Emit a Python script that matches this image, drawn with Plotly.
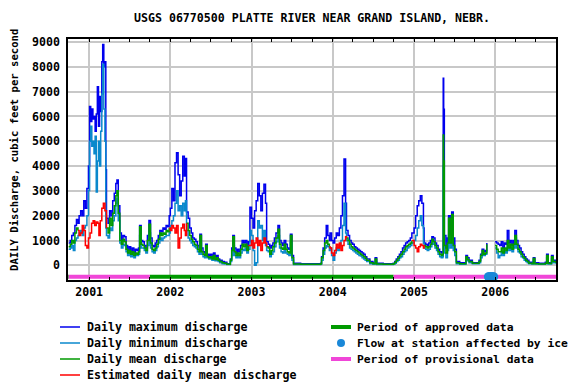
import plotly.graph_objects as go

# ---------------- data ----------------
dates = [
    # WY2001
    "2000-10-01","2000-10-08","2000-10-15","2000-10-22","2000-10-29","2000-11-05","2000-11-12",
    "2000-11-17","2000-11-24","2000-12-01","2000-12-08","2000-12-15","2000-12-22","2000-12-29",
    "2001-01-03","2001-01-08","2001-01-13","2001-01-18","2001-01-23","2001-01-28",
    "2001-02-02","2001-02-07","2001-02-12","2001-02-17","2001-02-22","2001-02-27",
    "2001-03-03","2001-03-08","2001-03-13","2001-03-17","2001-03-20","2001-03-27",
    "2001-04-03","2001-04-10","2001-04-17","2001-04-24",
    "2001-05-01","2001-05-06","2001-05-12","2001-05-19","2001-05-26",
    "2001-06-02","2001-06-09","2001-06-16","2001-06-23","2001-06-30",
    "2001-07-07","2001-07-14","2001-07-21","2001-07-28",
    "2001-08-04","2001-08-11","2001-08-16","2001-08-23","2001-08-30",
    "2001-09-06","2001-09-13","2001-09-20","2001-09-27",
    # WY2002
    "2001-10-04","2001-10-11","2001-10-18","2001-10-25",
    "2001-11-01","2001-11-08","2001-11-15","2001-11-22","2001-11-29",
    "2001-12-06","2001-12-13","2001-12-20","2001-12-27",
    "2002-01-01","2002-01-08","2002-01-15","2002-01-22","2002-01-29",
    "2002-02-05","2002-02-12","2002-02-19","2002-02-26",
    "2002-03-05","2002-03-10","2002-03-15","2002-03-22","2002-03-29",
    "2002-04-05","2002-04-12","2002-04-19","2002-04-26",
    "2002-05-03","2002-05-10","2002-05-14","2002-05-21","2002-05-28",
    "2002-06-04","2002-06-09","2002-06-16","2002-06-23","2002-06-30",
    "2002-07-07","2002-07-14","2002-07-21","2002-07-28",
    "2002-08-04","2002-08-11","2002-08-22",
    "2002-09-01","2002-09-12","2002-09-22","2002-09-28",
    # WY2003
    "2002-10-04","2002-10-09","2002-10-16","2002-10-23","2002-10-30",
    "2002-11-06","2002-11-13","2002-11-20","2002-11-27",
    "2002-12-04","2002-12-11","2002-12-18","2002-12-25",
    "2003-01-01","2003-01-08","2003-01-15","2003-01-22","2003-01-29",
    "2003-02-05","2003-02-12","2003-02-19","2003-02-26",
    "2003-03-05","2003-03-10","2003-03-17","2003-03-24","2003-03-31",
    "2003-04-07","2003-04-14","2003-04-21","2003-04-30",
    "2003-05-07","2003-05-14","2003-05-21","2003-05-28",
    "2003-06-04","2003-06-11","2003-06-18","2003-06-25",
    "2003-07-02","2003-07-09","2003-08-10","2003-09-10","2003-10-10","2003-11-08",
    # WY2004
    "2003-11-12","2003-11-19","2003-11-26",
    "2003-12-03","2003-12-10","2003-12-17","2003-12-20","2003-12-27",
    "2004-01-03","2004-01-10","2004-01-17","2004-01-24","2004-01-31",
    "2004-02-07","2004-02-14","2004-02-21","2004-02-28",
    "2004-03-03","2004-03-10","2004-03-17","2004-03-24","2004-03-31",
    "2004-04-07","2004-04-14","2004-04-21","2004-04-28",
    "2004-05-05","2004-05-12","2004-05-19","2004-05-26",
    "2004-06-02","2004-06-16","2004-06-30",
    "2004-07-10","2004-07-17","2004-08-15","2004-09-15","2004-09-29",
    # WY2005
    "2004-10-06","2004-10-13","2004-10-20","2004-10-27",
    "2004-11-03","2004-11-10","2004-11-17","2004-11-24",
    "2004-12-01","2004-12-08","2004-12-15","2004-12-22",
    "2005-01-01","2005-01-08","2005-01-15","2005-01-22","2005-01-29",
    "2005-02-05","2005-02-12","2005-02-15","2005-02-22",
    "2005-03-01","2005-03-08","2005-03-15","2005-03-22","2005-03-29",
    "2005-04-05","2005-04-12","2005-04-19","2005-04-26",
    "2005-05-03","2005-05-10","2005-05-12","2005-05-14","2005-05-17","2005-05-24","2005-05-31",
    "2005-06-05","2005-06-12","2005-06-19","2005-06-26",
    "2005-07-03","2005-07-10","2005-07-25",
    "2005-08-10","2005-08-22","2005-08-29",
    "2005-09-05","2005-09-20","2005-10-10",
    # WY2006
    "2005-10-20","2005-10-27",
    "2005-11-03","2005-11-10","2005-11-17","2005-11-24","2005-11-27",
    "2005-12-31",
    "2006-01-07","2006-01-14","2006-01-21","2006-01-28",
    "2006-02-04","2006-02-11","2006-02-18","2006-02-24",
    "2006-03-03","2006-03-10","2006-03-17","2006-03-24","2006-03-30",
    "2006-04-06","2006-04-13","2006-04-20","2006-04-27",
    "2006-05-04","2006-05-11","2006-05-18","2006-05-25",
    "2006-06-01","2006-06-15","2006-06-21","2006-06-28",
    "2006-07-15","2006-08-05","2006-08-14","2006-08-20","2006-08-27",
    "2006-09-05","2006-09-11","2006-09-18","2006-09-30",
]

q_max = [
    # WY2001
    900,1000,1200,1300,1600,1850,1700,
    2000,2200,2000,2600,2300,3100,4000,
    6400,5800,6300,5900,6000,5400,
    6100,7200,5600,6800,6200,8200,
    8900,8000,8200,3850,1900,1700,
    2200,2000,2600,2900,
    3300,3440,2400,1300,1000,
    1200,1150,800,600,750,
    550,700,500,650,
    600,700,1600,1000,950,
    800,700,1200,1810,
    # WY2002
    1100,800,750,900,
    1000,1200,1400,1350,1500,
    1450,1600,1550,2000,
    2300,3100,2600,4130,4540,
    3650,2800,3400,4400,
    3600,4300,2150,1900,1500,
    1300,1100,1050,950,
    800,700,1250,700,550,
    500,850,450,400,450,
    350,500,300,400,
    250,200,150,
    120,60,60,250,
    # WY2003
    700,1200,700,500,650,
    550,800,1000,900,
    1000,750,950,2340,
    1900,1500,2200,2600,3300,
    2800,2200,2900,3270,
    2500,950,850,700,800,
    900,1100,1300,1600,
    1000,900,800,1000,
    850,700,650,1250,
    400,80,60,60,60,80,
    # WY2004
    350,700,1100,
    1600,1200,1000,1300,1000,
    900,1100,1300,1200,1500,
    2000,2800,4280,2500,
    1400,1200,1000,900,850,
    750,700,650,600,
    550,500,450,350,
    250,150,100,
    300,80,60,60,80,
    # WY2005
    150,250,350,450,
    550,700,800,900,
    950,1000,1100,1300,
    1500,2000,2400,2600,2800,
    2500,1500,900,850,
    800,900,1000,1150,1100,
    900,800,650,550,
    500,550,7540,6290,1200,700,1100,
    2000,1200,2150,1100,
    650,150,100,
    100,400,300,
    200,100,100,
    # WY2006
    200,450,
    650,550,600,900,None,
    950,
    900,850,800,950,
    700,900,850,1400,
    900,1000,800,1000,1400,
    1000,800,700,550,
    450,350,250,200,
    120,100,300,100,
    80,80,120,450,100,
    100,400,200,120,
]

q_min = [
    # WY2001
    650,700,800,600,1000,1100,1200,
    1300,1400,1200,1500,1600,2000,3000,
    5000,5600,4800,5000,4500,5200,
    2950,4200,5000,4000,5400,6900,
    8100,6300,5000,1500,1200,1100,
    1500,1400,1800,2000,
    2500,2700,1800,900,700,
    850,800,550,400,500,
    350,450,300,400,
    400,450,1200,700,700,
    600,500,800,1300,
    # WY2002
    700,550,500,600,
    750,900,1100,1000,1100,
    1150,1200,1200,1300,
    1600,1800,2000,2500,3000,
    2200,2400,2000,2500,
    2200,2600,1400,1100,1000,
    900,800,750,700,
    550,450,900,450,350,
    300,550,300,250,300,
    200,300,180,250,
    150,100,60,
    50,30,30,150,
    # WY2003
    400,800,400,300,400,
    300,500,650,600,
    700,500,650,1400,
    1200,600,0,100,1800,
    1500,1600,1000,1400,
    800,600,550,350,450,
    550,750,950,1200,
    700,550,500,700,
    500,450,400,900,
    200,30,30,30,30,40,
    # WY2004
    200,450,700,
    800,750,600,700,400,
    200,500,700,600,800,
    1000,1600,2500,1300,
    1000,850,700,650,600,
    550,500,450,400,
    380,300,250,200,
    150,60,40,
    150,30,30,30,40,
    # WY2005
    80,150,200,300,
    350,450,550,600,
    700,750,800,900,
    1000,1200,1500,1800,2000,
    1600,900,700,650,
    600,650,750,900,850,
    700,600,450,350,
    300,350,4000,2000,500,300,600,
    1200,700,1100,600,
    400,60,40,
    40,250,180,
    100,60,60,
    # WY2006
    100,300,
    450,400,450,600,None,
    700,
    500,300,400,550,
    400,550,500,800,
    600,700,550,700,1100,
    700,550,500,350,
    300,200,150,100,
    60,50,200,50,
    40,40,60,300,50,
    50,250,100,60,
]

q_mean = [
    # WY2001
    750,850,1000,900,1300,1500,1400,
    None,None,None,None,None,None,None,
    None,None,None,None,None,None,
    None,None,None,None,None,None,
    None,None,None,None,1500,1300,
    1900,1600,2100,2400,
    2800,3000,2100,1000,850,
    1050,950,650,500,600,
    450,550,400,500,
    450,550,1550,850,800,
    700,600,1000,1650,
    # WY2002
    900,650,600,700,
    850,1050,1300,1200,1300,
    1250,1400,1350,1500,
    None,None,None,None,None,
    None,None,None,None,
    None,None,1700,1400,1200,
    1050,950,850,800,
    650,550,1200,550,450,
    400,800,350,300,350,
    250,400,230,300,
    200,150,100,
    80,40,40,200,
    # WY2003
    600,1150,550,400,500,
    400,650,850,750,
    850,600,800,None,
    None,None,None,None,None,
    None,None,None,None,
    None,750,700,450,600,
    750,900,1100,1450,
    850,700,650,850,
    650,550,500,1200,
    300,50,40,40,40,60,
    # WY2004
    300,600,900,
    1000,850,750,None,None,
    None,None,None,None,None,
    None,None,None,None,
    1100,1000,850,750,700,
    650,600,550,500,
    450,400,350,280,
    200,100,60,
    250,50,40,40,60,
    # WY2005
    120,200,280,380,
    450,550,650,750,
    800,850,900,1000,
    None,None,None,None,None,
    None,None,800,750,
    700,750,850,1050,950,
    800,700,550,450,
    400,450,5250,4200,800,500,900,
    1900,900,2050,800,
    550,100,60,
    60,350,230,
    150,80,80,
    # WY2006
    150,400,
    600,450,500,850,None,
    800,
    650,550,550,700,
    500,700,600,1000,
    700,850,650,850,1200,
    850,650,550,450,
    350,280,200,150,
    80,60,270,60,
    50,50,80,400,70,
    70,350,150,100,
]

est_dates = [
    "2000-11-12","2000-11-17","2000-11-24","2000-12-01","2000-12-08","2000-12-15","2000-12-22",
    "2000-12-29","2001-01-05","2001-01-12","2001-01-19","2001-01-26","2001-02-02","2001-02-09",
    "2001-02-14","2001-02-20","2001-02-27","2001-03-06","2001-03-13","2001-03-20","2001-03-21",
    "2001-12-27","2002-01-01","2002-01-08","2002-01-15","2002-01-22","2002-01-29","2002-02-05",
    "2002-02-12","2002-02-19","2002-02-26","2002-03-05","2002-03-10","2002-03-15","2002-03-16",
    "2002-12-18","2002-12-25","2003-01-01","2003-01-08","2003-01-15","2003-01-22","2003-01-29",
    "2003-02-05","2003-02-12","2003-02-19","2003-02-26","2003-03-05","2003-03-10","2003-03-11",
    "2003-12-17","2003-12-20","2003-12-27","2004-01-03","2004-01-10","2004-01-17","2004-01-24",
    "2004-01-31","2004-02-07","2004-02-14","2004-02-21","2004-02-28","2004-03-03","2004-03-04",
    "2004-12-22","2005-01-01","2005-01-08","2005-01-15","2005-01-22","2005-01-29","2005-02-05",
    "2005-02-12","2005-02-15",
]
q_est = [
    1400,1200,1300,1600,1400,800,700,
    1100,1300,1700,1800,1600,1750,1700,
    1200,1800,2300,2500,2200,1500,None,
    1500,1400,1600,1500,1300,1600,700,
    1100,1500,1650,1400,1200,1700,None,
    800,800,1000,700,900,1100,800,
    1000,600,900,1100,900,750,None,
    750,700,500,400,600,850,700,
    900,600,800,1000,1150,1100,None,
    1000,800,700,550,750,850,800,
    700,800,
]

ice_dates = ["2005-12-01","2005-12-05","2005-12-09","2005-12-13",
             "2005-12-17","2005-12-21","2005-12-25"]

approved_periods = [("2000-09-28", "2000-10-01"), ("2001-10-01", "2004-10-01")]
provisional_periods = [("2000-10-01", "2001-10-01"), ("2004-10-01", "2006-10-01")]

assert len(dates) == len(q_max) == len(q_min) == len(q_mean)
assert len(est_dates) == len(q_est)

# ---------------- style ----------------
FONT = "DejaVu Sans Mono"
C_MAX = "#0000ee"
C_MIN = "#0a88cc"
C_MEAN = "#009a00"
C_EST = "#ff0000"
C_PROV = "#f046d8"
C_ICE = "#1a88d8"
BAND_Y = -460

def period_xy(periods):
    xs, ys = [], []
    for a, b in periods:
        xs += [a, b, None]
        ys += [BAND_Y, BAND_Y, None]
    return xs, ys

fig = go.Figure()
fig.add_trace(go.Scatter(x=dates, y=q_max, mode="lines", line=dict(color=C_MAX, width=1.5, shape="hv"),
                         connectgaps=False, showlegend=False))
fig.add_trace(go.Scatter(x=dates, y=q_min, mode="lines", line=dict(color=C_MIN, width=1.5, shape="hv"),
                         connectgaps=False, showlegend=False))
fig.add_trace(go.Scatter(x=dates, y=q_mean, mode="lines", line=dict(color=C_MEAN, width=1.5, shape="hv"),
                         connectgaps=False, showlegend=False))
fig.add_trace(go.Scatter(x=est_dates, y=q_est, mode="lines", line=dict(color=C_EST, width=1.5, shape="hv"),
                         connectgaps=False, showlegend=False))
ax, ay = period_xy(approved_periods)
fig.add_trace(go.Scatter(x=ax, y=ay, mode="lines", line=dict(color=C_MEAN, width=4), showlegend=False))
px_, py_ = period_xy(provisional_periods)
fig.add_trace(go.Scatter(x=px_, y=py_, mode="lines", line=dict(color=C_PROV, width=4), showlegend=False))
fig.add_trace(go.Scatter(x=ice_dates, y=[BAND_Y] * len(ice_dates), mode="markers",
                         marker=dict(color=C_ICE, size=9), showlegend=False))

# The page body has an 8px margin, so the figure is drawn 8px smaller and
# all target positions below are given in page pixels.
OFF = 8
W, H = 576 - OFF, 384 - OFF
L, R, T, B = 68, 556, 39, 280          # plot area on the page
def fx(p):
    return (p - L) / (R - L)
def fy(p):
    return (B - p) / (B - T)

shapes = []
annots = []
bold = dict(family=FONT, size=11.6, color="black", weight="bold")
bold_r = dict(family=FONT, size=11.3, color="black", weight="bold")
left_items = [("Daily maximum discharge", C_MAX), ("Daily minimum discharge", C_MIN),
              ("Daily mean discharge", C_MEAN), ("Estimated daily mean discharge", C_EST)]
rows = [327, 343, 359, 375]
for (txt, col), ry in zip(left_items, rows):
    shapes.append(dict(type="line", xref="paper", yref="paper", x0=fx(60), x1=fx(80),
                       y0=fy(ry), y1=fy(ry), line=dict(color=col, width=1.5)))
    annots.append(dict(text=txt, xref="paper", yref="paper", x=fx(85), y=fy(ry),
                       xanchor="left", yanchor="middle", showarrow=False, font=bold))
right_items = [("Period of approved data", "band", C_MEAN),
               ("Flow at station affected by ice", "dot", C_ICE),
               ("Period of provisional data", "band", C_PROV)]
for (txt, kind, col), ry in zip(right_items, rows[:3]):
    if kind == "band":
        shapes.append(dict(type="line", xref="paper", yref="paper", x0=fx(331), x1=fx(351),
                           y0=fy(ry), y1=fy(ry), line=dict(color=col, width=4)))
    else:
        shapes.append(dict(type="circle", xref="paper", yref="paper", xsizemode="pixel",
                           ysizemode="pixel", xanchor=fx(341), yanchor=fy(ry),
                           x0=-4, x1=4, y0=-4, y1=4, fillcolor=col, line=dict(width=0)))
    annots.append(dict(text=txt, xref="paper", yref="paper", x=fx(355), y=fy(ry),
                       xanchor="left", yanchor="middle", showarrow=False, font=bold_r))

annots.append(dict(text="DAILY Discharge, cubic feet per second", xref="paper", yref="paper",
                   x=fx(14), y=fy(150), textangle=-90, xanchor="center", yanchor="middle",
                   showarrow=False, font=dict(family=FONT, size=10.6, color="black", weight="bold")))

fig.update_layout(
    width=W, height=H,
    margin=dict(l=L - OFF, r=W - (R - OFF), t=T - OFF, b=H - (B - OFF)),
    paper_bgcolor="white", plot_bgcolor="white",
    font=bold,
    title=dict(text="USGS 06770500 PLATTE RIVER NEAR GRAND ISLAND, NEBR.", x=0.5, xref="paper",
               xanchor="center", y=1 - (18 - OFF) / H, yref="container", yanchor="middle",
               font=bold),
    shapes=shapes, annotations=annots,
    xaxis=dict(type="date", range=["2000-09-28", "2006-10-01"], tick0="2001-01-01", dtick="M12",
               tickformat="%Y", showgrid=True, gridcolor="#c8c8c8", gridwidth=1.5,
               ticks="inside", ticklen=3, tickcolor="black",
               showline=True, linecolor="black", linewidth=1.5, mirror="ticks",
               minor=dict(dtick="M3", tick0="2001-01-01", ticks="inside", ticklen=3,
                          tickcolor="black", showgrid=False),
               zeroline=False, fixedrange=True),
    yaxis=dict(range=[-592, 9121], tick0=0, dtick=1000, showgrid=True, gridcolor="#c8c8c8",
               gridwidth=1.5, ticks="", showline=True, linecolor="black", linewidth=1.5,
               mirror=True, zeroline=False, fixedrange=True, ticklabelstandoff=4),
)

fig.write_html("out.html")
